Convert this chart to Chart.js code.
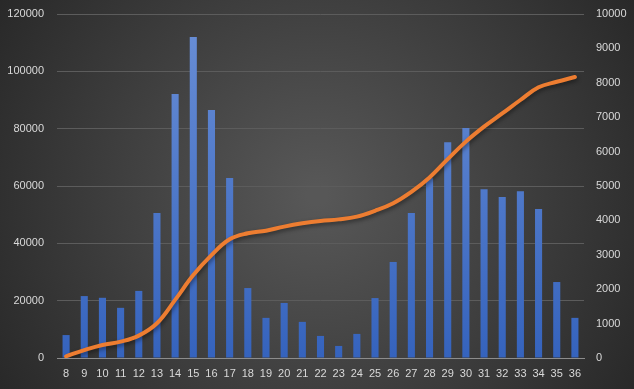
<!DOCTYPE html>
<html>
<head>
<meta charset="utf-8">
<script src="https://cdn.jsdelivr.net/npm/chart.js@4.4.1/dist/chart.umd.min.js"></script>
<style>
  html, body { margin: 0; padding: 0; background: #2b2b2b; }
  #wrap { width: 634px; height: 389px; position: relative; }
</style>
</head>
<body>
<div id="wrap"><canvas id="chart"></canvas></div>
<script>
// Data
const weeks = ['8','9','10','11','12','13','14','15','16','17','18','19','20','21','22','23','24','25','26','27','28','29','30','31','32','33','34','35','36'];
const barValues = [8000, 21600, 21000, 17500, 23400, 50600, 92100, 112000, 86500, 62800, 24400, 14000, 19200, 12600, 7700, 4200, 8400, 20900, 33500, 50600, 62700, 75300, 80200, 58900, 56200, 58200, 52000, 26500, 14000];
const lineValues = [50, 230, 380, 475, 650, 1010, 1690, 2410, 2990, 3450, 3625, 3700, 3820, 3915, 3985, 4030, 4110, 4280, 4500, 4830, 5250, 5780, 6290, 6725, 7110, 7500, 7870, 8030, 8170];

const textColor = '#d9d9d9';
const font = { family: "'Liberation Sans', Arial, sans-serif", size: 11 };

// dark radial background like the office theme
const bgPlugin = {
    id: 'bg',
    beforeDraw(chart) {
        const { ctx, width, height } = chart;
        const g = ctx.createRadialGradient(width * 0.5, height * 0.5, 10, width * 0.5, height * 0.5, width * 0.62);
        g.addColorStop(0, '#575757');
        g.addColorStop(1, '#262626');
        ctx.save();
        ctx.fillStyle = g;
        ctx.fillRect(0, 0, width, height);
        ctx.restore();
    }
};

// soft shadow under the orange line
const shadowPlugin = {
    id: 'lineShadow',
    beforeDatasetDraw(chart, args) {
        if (args.meta.type !== 'line') return;
        const ctx = chart.ctx;
        ctx.save();
        ctx.shadowColor = 'rgba(0,0,0,0.45)';
        ctx.shadowBlur = 4;
        ctx.shadowOffsetX = 1;
        ctx.shadowOffsetY = 2;
    },
    afterDatasetDraw(chart, args) {
        if (args.meta.type !== 'line') return;
        chart.ctx.restore();
    }
};

function barGradient(context) {
    const area = context.chart.chartArea;
    if (!area) return '#4472c4';
    const g = context.chart.ctx.createLinearGradient(0, area.top, 0, area.bottom);
    g.addColorStop(0, '#6a8fd6');
    g.addColorStop(1, '#3563bd');
    return g;
}

const plain = v => String(v);

// fixed side widths so the plot area sits where the original's does
function fitSide(width) {
    return scale => {
        scale.width = width;
        scale.paddingTop = 0;
        scale.paddingBottom = 0;
    };
}

const ctx = document.getElementById('chart').getContext('2d');
new Chart(ctx, {
    type: 'bar',
    data: {
        labels: weeks,
        datasets: [
            {
                type: 'line',
                data: lineValues,
                yAxisID: 'y2',
                borderColor: '#ed7d31',
                borderWidth: 4,
                borderCapStyle: 'round',
                pointRadius: 0,
                tension: 0.4,
                order: 0
            },
            {
                type: 'bar',
                data: barValues,
                yAxisID: 'y',
                backgroundColor: barGradient,
                barPercentage: 0.39,
                categoryPercentage: 1,
                order: 1
            }
        ]
    },
    options: {
        responsive: true,
        maintainAspectRatio: false,
        animation: false,
        layout: { padding: { top: 14, left: 0, right: 0, bottom: 0 } },
        plugins: { legend: { display: false }, tooltip: { enabled: false } },
        scales: {
            x: {
                grid: { display: false, drawTicks: false },
                border: { display: true, color: '#8c8c8c', width: 1 },
                ticks: { color: textColor, font: font, padding: 9, maxRotation: 0, autoSkip: false },
                afterFit(scale) { scale.height = 31; }
            },
            y: {
                position: 'left',
                min: 0, max: 120000,
                ticks: { stepSize: 20000, color: textColor, font: font, padding: 13, callback: plain },
                grid: { color: '#5c5c5c', lineWidth: 1, drawTicks: false },
                border: { display: false },
                afterFit: fitSide(57)
            },
            y2: {
                position: 'right',
                min: 0, max: 10000,
                ticks: { stepSize: 1000, color: textColor, font: font, padding: 12, callback: plain },
                grid: { display: false, drawTicks: false },
                border: { display: false },
                afterFit: fitSide(50)
            }
        }
    },
    plugins: [bgPlugin, shadowPlugin]
});
</script>
</body>
</html>
